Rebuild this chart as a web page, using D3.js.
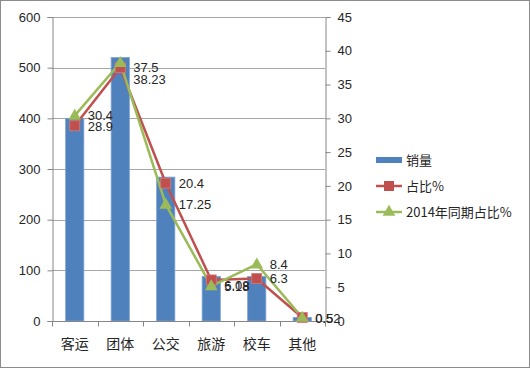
<!DOCTYPE html>
<html>
<head>
    <meta charset="utf-8">
    <script src="https://d3js.org/d3.v7.min.js"></script>
    <style>
        body { margin: 0; background: #fff; }
        svg { display: block; }
        .tick-num { font-family: "Liberation Sans", Arial, sans-serif; font-size: 13px; fill: #262626; }
        .cat { font-family: "Noto Sans CJK SC", sans-serif; font-size: 14px; fill: #262626; }
        .lbl { font-family: "Liberation Sans", Arial, sans-serif; font-size: 13px; fill: #262626; }
        .legend { font-family: "Noto Sans CJK SC", sans-serif; font-size: 13px; fill: #262626; }
    </style>
</head>
<body>
<div id="chart"></div>
<script>
    // data
    const categories = ["客运", "团体", "公交", "旅游", "校车", "其他"];
    const sales = [400, 520, 284, 88, 88, 7];
    const share = [28.9, 37.5, 20.4, 6.08, 6.3, 0.52];
    const share2014 = [30.4, 38.23, 17.25, 5.18, 8.4, 0.5];
    const leftTicks = [0, 100, 200, 300, 400, 500, 600];
    const rightTicks = [0, 5, 10, 15, 20, 25, 30, 35, 40, 45];
    const seriesNames = ["销量", "占比%", "2014年同期占比%"];

    // small manual nudges of the data labels (px), like the original
    const shareLabelDy = [1, 0, 0, 6, 0, 1];
    const share2014LabelDy = [0, 17, 0, 0, 0, 1];

    const width = 530, height = 368;
    const margin = {top: 17, left: 52, right: 205, bottom: 47};
    const plotRight = width - margin.right;
    const plotBottom = height - margin.bottom;

    const colors = {bar: "#4f81bd", red: "#c0504d", green: "#9bbb59"};

    const svg = d3.select("#chart").append("svg")
        .attr("width", width)
        .attr("height", height);

    // outer chart border
    svg.append("rect")
        .attr("x", 0.5).attr("y", 0.5)
        .attr("width", width - 1).attr("height", height - 1)
        .attr("fill", "#fff")
        .attr("stroke", "#8c8c8c");

    var x = d3.scaleBand()
        .domain(categories)
        .range([margin.left, plotRight])
        .paddingInner(0.6)
        .paddingOuter(0.3);
    var xBounds = d3.scaleBand().domain(categories).range([margin.left, plotRight]);

    var yLeft = d3.scaleLinear().domain([0, 600]).range([plotBottom, margin.top]);
    var yRight = d3.scaleLinear().domain([0, 45]).range([plotBottom, margin.top]);

    // gridlines
    svg.append("g")
        .selectAll("line")
        .data(leftTicks.filter(d => d > 0))
        .enter().append("line")
        .attr("x1", margin.left).attr("x2", plotRight)
        .attr("y1", d => Math.round(yLeft(d)) + 0.5)
        .attr("y2", d => Math.round(yLeft(d)) + 0.5)
        .attr("stroke", "#a6a6a6");

    // bars
    svg.append("g")
        .selectAll("rect")
        .data(categories)
        .enter().append("rect")
        .attr("x", d => x(d))
        .attr("y", (d, i) => yLeft(sales[i]))
        .attr("width", x.bandwidth())
        .attr("height", (d, i) => plotBottom - yLeft(sales[i]))
        .attr("fill", colors.bar)
        .attr("stroke", "#7ea3d4")
        .attr("stroke-width", 0.8);

    // left axis
    var gL = svg.append("g")
        .attr("transform", "translate(" + (margin.left + 0.5) + ",0)")
        .call(d3.axisLeft(yLeft).tickValues(leftTicks).tickSize(5).tickPadding(7));
    // right axis
    var gR = svg.append("g")
        .attr("transform", "translate(" + (plotRight + 0.5) + ",0)")
        .call(d3.axisRight(yRight).tickValues(rightTicks).tickSize(5).tickPadding(7));
    [gL, gR].forEach(g => {
        g.select(".domain").attr("stroke", "#868686");
        g.selectAll(".tick line").attr("stroke", "#868686");
        g.selectAll(".tick text").attr("class", "tick-num").attr("fill", null);
    });

    // bottom axis: ticks at category boundaries
    var gB = svg.append("g")
        .attr("transform", "translate(0," + (plotBottom + 0.5) + ")");
    gB.append("line")
        .attr("x1", margin.left).attr("x2", plotRight)
        .attr("stroke", "#868686");
    gB.selectAll(".bt")
        .data(categories.concat(["_end"]))
        .enter().append("line")
        .attr("x1", (d, i) => Math.round(i < categories.length ? xBounds(d) : plotRight) + 0.5)
        .attr("x2", (d, i) => Math.round(i < categories.length ? xBounds(d) : plotRight) + 0.5)
        .attr("y1", 0).attr("y2", 5)
        .attr("stroke", "#868686");
    gB.selectAll("text")
        .data(categories)
        .enter().append("text")
        .attr("class", "cat")
        .attr("x", d => x(d) + x.bandwidth() / 2)
        .attr("y", 27)
        .attr("text-anchor", "middle")
        .text(d => d);

    var cx = d => x(d) + x.bandwidth() / 2;

    // lines
    var line = values => d3.line()
        .x(d => cx(d))
        .y((d, i) => yRight(values[i]))(categories);

    svg.append("path")
        .attr("d", line(share))
        .attr("fill", "none")
        .attr("stroke", colors.red)
        .attr("stroke-width", 2.5);

    svg.append("path")
        .attr("d", line(share2014))
        .attr("fill", "none")
        .attr("stroke", colors.green)
        .attr("stroke-width", 2.5);

    // markers
    svg.append("g").selectAll("rect")
        .data(categories)
        .enter().append("rect")
        .attr("x", d => cx(d) - 5)
        .attr("y", (d, i) => yRight(share[i]) - 5)
        .attr("width", 10).attr("height", 10)
        .attr("fill", colors.red)
        .attr("stroke", "#d77b79")
        .attr("stroke-width", 0.8);

    var tri = d3.symbol().type(d3.symbolTriangle).size(70);
    svg.append("g").selectAll("path")
        .data(categories)
        .enter().append("path")
        .attr("d", tri)
        .attr("transform", (d, i) => "translate(" + cx(d) + "," + (yRight(share2014[i]) + 0.5) + ")")
        .attr("fill", colors.green);

    // data labels
    svg.append("g").selectAll("text")
        .data(categories)
        .enter().append("text")
        .attr("class", "lbl")
        .attr("x", d => cx(d) + 13)
        .attr("y", (d, i) => yRight(share[i]) + shareLabelDy[i])
        .attr("dy", "0.35em")
        .text((d, i) => share[i]);

    svg.append("g").selectAll("text")
        .data(categories)
        .enter().append("text")
        .attr("class", "lbl")
        .attr("x", d => cx(d) + 13)
        .attr("y", (d, i) => yRight(share2014[i]) + share2014LabelDy[i])
        .attr("dy", "0.35em")
        .text((d, i) => share2014[i]);

    // legend
    var lg = svg.append("g").attr("transform", "translate(376,160)");
    lg.append("rect")
        .attr("x", 0).attr("y", -3).attr("width", 26).attr("height", 6)
        .attr("fill", colors.bar);
    lg.append("line")
        .attr("x1", 0).attr("x2", 26).attr("y1", 26).attr("y2", 26)
        .attr("stroke", colors.red).attr("stroke-width", 2.5);
    lg.append("rect")
        .attr("x", 8).attr("y", 21).attr("width", 10).attr("height", 10)
        .attr("fill", colors.red);
    lg.append("line")
        .attr("x1", 0).attr("x2", 26).attr("y1", 52).attr("y2", 52)
        .attr("stroke", colors.green).attr("stroke-width", 2.5);
    lg.append("path")
        .attr("d", tri)
        .attr("transform", "translate(13,52)")
        .attr("fill", colors.green);
    lg.selectAll("text")
        .data(seriesNames)
        .enter().append("text")
        .attr("class", "legend")
        .attr("x", 30)
        .attr("y", (d, i) => i * 26)
        .attr("dy", "0.35em")
        .text(d => d);
</script>
</body>
</html>
